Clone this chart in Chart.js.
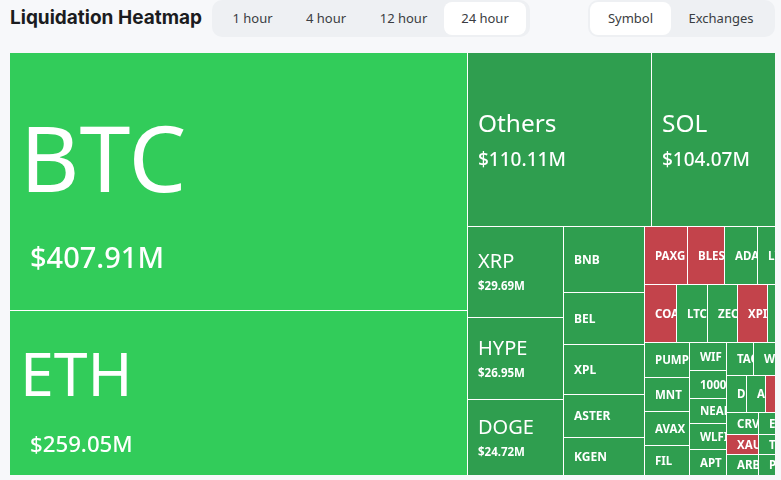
<!DOCTYPE html>
<html>
<head>
<meta charset="utf-8">
<script src="https://cdn.jsdelivr.net/npm/chart.js@4.4.1/dist/chart.umd.min.js"></script>
<style>
html,body{margin:0;padding:0;background:#f7f8fa;width:781px;height:480px;overflow:hidden;font-family:'Noto Sans',sans-serif;}
.title{position:absolute;left:10px;top:5px;font:700 19px Inter,sans-serif;line-height:26px;color:#1b1c20;white-space:nowrap;}
.seg{position:absolute;top:0;height:37px;background:#eef0f3;border-radius:10px;}
.btn{position:absolute;top:2px;height:33px;font:400 13px 'Noto Sans',sans-serif;line-height:33px;text-align:center;color:#3a3d42;border-radius:8px;white-space:nowrap;}
.btn.on{background:#ffffff;}
#wrap{position:absolute;left:10px;top:53px;width:765px;height:422px;overflow:hidden;}
canvas{display:block;}
</style>
</head>
<body>
<div class="title">Liquidation Heatmap</div>
<div class="seg" style="left:212px;width:318px;">
  <div class="btn" style="left:3px;width:75px;">1 hour</div>
  <div class="btn" style="left:76px;width:76px;">4 hour</div>
  <div class="btn" style="left:152px;width:79px;">12 hour</div>
  <div class="btn on" style="left:232px;width:82px;">24 hour</div>
</div>
<div class="seg" style="left:588px;width:187px;">
  <div class="btn on" style="left:2px;width:81px;">Symbol</div>
  <div class="btn" style="left:83px;width:100px;">Exchanges</div>
</div>
<div id="wrap"><canvas id="c" width="815" height="422"></canvas></div>
<script>
// ---- data (24h liquidations, $M) ----
const symbols = ['BTC','ETH','Others','SOL','XRP','HYPE','DOGE',
  'BNB','BEL','XPL','ASTER','KGEN',
  'PAXG','BLESS','ADA','LINK','SUI',
  'COAI','LTC','ZEC','XPIN','BCH','TRX',
  'PUMP','MNT','AVAX','FIL',
  'WIF','1000PEPE','NEAR','WLFI','APT',
  'TAO','WLD','UNI','ONDO',
  'DOT','AAVE','FARTCOIN','SEI','ETC',
  'CRV','XAUT','ARB',
  'ENA','TRUMP','PENGU',
  'OP','TIA','INJ','HBAR','LDO'];
const liquidationsM = [407.91,259.05,110.11,104.07,29.69,26.95,24.72,
  18.50,14.52,13.88,12.09,10.39,
  8.68,7.24,6.70,6.68,6.66,
  6.35,6.19,5.95,5.93,5.62,5.60,
  5.47,5.28,5.22,4.58,
  3.54,3.52,3.24,3.23,3.19,
  3.06,2.78,2.72,2.64,
  2.58,2.56,2.54,2.52,2.50,
  2.36,2.24,2.22,
  2.20,2.10,2.00,
  1.90,1.70,1.60,1.40,1.21];
const netSide = ['long','long','long','long','long','long','long',
  'long','long','long','long','long',
  'short','short','long','long','long',
  'short','long','long','short','long','long',
  'long','long','long','long',
  'long','long','long','long','long',
  'long','long','long','long',
  'long','long','short','long','long',
  'long','short','long',
  'long','long','long',
  'long','long','long','long','long'];

const CANVAS_W = 815, CANVAS_H = 422;
const GOLDEN = (1 + Math.sqrt(5)) / 2;

function worst(row, sum, side, ratio) {
  let mx = -Infinity, mn = Infinity;
  row.forEach(it => { if (it.v > mx) mx = it.v; if (it.v < mn) mn = it.v; });
  const f = side * side * ratio, s2 = sum * sum;
  return Math.max(f * mx / s2, s2 / (f * mn));
}
function squarify(items, rect, ratio) {
  const out = [];
  const r = Object.assign({}, rect);
  let i = 0;
  while (i < items.length) {
    const side = Math.min(r.w, r.h);
    const row = [];
    let sum = 0, best = Infinity;
    while (i < items.length) {
      const it = items[i];
      const s2 = sum + it.v;
      const sc = worst(row.concat([it]), s2, side, ratio);
      if (sc <= best) { row.push(it); sum = s2; best = sc; i++; } else break;
    }
    const horizontal = side === r.w;
    let thick = sum / side;
    if (i >= items.length) thick = horizontal ? r.h : r.w;
    let pos = horizontal ? r.x : r.y;
    const end = horizontal ? r.x + r.w : r.y + r.h;
    row.forEach((it, k) => {
      let len = it.v / thick;
      if (k === row.length - 1) len = end - pos;
      if (horizontal) out.push(Object.assign({}, it, {x0: pos, x1: pos + len, y0: r.y, y1: r.y + thick}));
      else out.push(Object.assign({}, it, {x0: r.x, x1: r.x + thick, y0: pos, y1: pos + len}));
      pos += len;
    });
    if (horizontal) { r.y += thick; r.h -= thick; } else { r.x += thick; r.w -= thick; }
  }
  return out;
}

const items = symbols.map((s, i) => ({name: s, v: liquidationsM[i], side: netSide[i]}))
  .sort((a, b) => b.v - a.v);
const total = items.reduce((a, b) => a + b.v, 0);
const aspect = CANVAS_W / CANVAS_H;
const WU = Math.sqrt(total * aspect), HU = Math.sqrt(total / aspect);
const cells = squarify(items, {x: 0, y: 0, w: WU, h: HU}, GOLDEN);

function colorFor(c) {
  if (c.side === 'short') return '#c3434b';
  return c.v >= 200 ? '#32cc5a' : '#2f9e4f';
}
function fmt(v) { return '$' + v.toFixed(2) + 'M'; }

function drawLabel(ctx, c, l, t, w, h) {
  const cy = t + h / 2;
  ctx.fillStyle = '#ffffff';
  ctx.textAlign = 'left';
  ctx.textBaseline = 'alphabetic';
  if (c.v >= 20) {
    const huge = c.v >= 200, big = c.v >= 100;
    const Fl = huge ? 0.4092 * Math.pow(c.v, 0.9) : (big ? 24.4 : 20);
    const Fv = big ? Math.max(19, 29 * Math.pow(c.v / 407.91, 0.585)) : 11.5;
    const d = 0.52 * Fl + Fv + (big && c.v < 400 ? 2.5 : 0);
    const hb = 0.714 * Fl + d;
    const capTop = cy - hb / 2 + 0.22 * (Fl - 20);
    const bl = capTop + 0.714 * Fl;
    ctx.font = '400 ' + Fl + 'px "Noto Sans"';
    ctx.fillText(c.name, l + 10, bl);
    ctx.font = (big ? '500 ' : '700 ') + Fv + 'px "Noto Sans"';
    ctx.fillText(fmt(c.v), l + (huge ? 20 : 10), bl + d);
  } else {
    const F = w >= 60 ? 12 : 11.5;
    ctx.font = '700 ' + F + 'px "Noto Sans"';
    ctx.fillText(c.name, l + 10, cy + 0.357 * F);
  }
}

const treemapPlugin = {
  id: 'treemapCells',
  beforeDatasetsDraw(chart) {
    const ctx = chart.ctx, x = chart.scales.x, y = chart.scales.y, ca = chart.chartArea;
    ctx.save();
    ctx.fillStyle = '#ffffff';
    ctx.fillRect(ca.left, ca.top, ca.right - ca.left, ca.bottom - ca.top);
    const R = Math.round(ca.right), B = Math.round(ca.bottom);
    cells.forEach(c => {
      const l = Math.round(x.getPixelForValue(c.x0)), r = Math.round(x.getPixelForValue(c.x1));
      const t = Math.round(y.getPixelForValue(c.y0)), b = Math.round(y.getPixelForValue(c.y1));
      const rr = r >= R ? r : r - 1;
      const bb = b >= B ? b : b - 1;
      ctx.fillStyle = colorFor(c);
      ctx.fillRect(l, t, rr - l, bb - t);
      ctx.save();
      ctx.beginPath();
      ctx.rect(l, t, rr - l, bb - t);
      ctx.clip();
      drawLabel(ctx, c, l, t, rr - l, bb - t);
      ctx.restore();
    });
    ctx.restore();
  }
};

new Chart(document.getElementById('c'), {
  type: 'scatter',
  data: {
    datasets: [{
      data: cells.map(c => ({x: (c.x0 + c.x1) / 2, y: (c.y0 + c.y1) / 2})),
      pointRadius: 0, pointHoverRadius: 0
    }]
  },
  options: {
    responsive: false,
    animation: false,
    events: [],
    layout: {padding: 0},
    scales: {
      x: {type: 'linear', min: 0, max: WU, display: false},
      y: {type: 'linear', min: 0, max: HU, reverse: true, display: false}
    },
    plugins: {legend: {display: false}, tooltip: {enabled: false}}
  },
  plugins: [treemapPlugin]
});
</script>
</body>
</html>
